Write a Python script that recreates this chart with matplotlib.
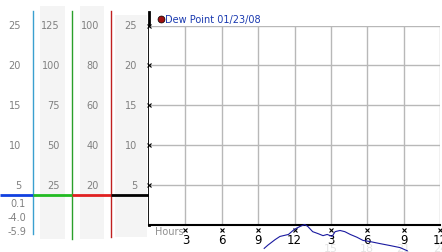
import matplotlib
matplotlib.use("Agg")
import matplotlib.pyplot as plt
from matplotlib.transforms import blended_transform_factory

# data
hours = [9.5, 9.8, 10.4, 10.8, 11.5, 12.0, 12.45, 12.85, 13.1, 13.5, 13.95, 14.35, 14.7,
         15.1, 15.35, 15.75, 16.15, 16.6, 17.15, 17.65, 18.25, 19.05, 19.9, 20.7, 21.3]
dew_point = [-3.0, -2.6, -1.9, -1.5, -1.25, -0.6, -0.25, 0.0, -0.25, -0.9, -1.15, -1.4, -1.25,
             -1.5, -0.9, -0.75, -0.9, -1.25, -1.6, -2.0, -2.15, -2.4, -2.65, -2.9, -3.3]
y_ticks = [5, 10, 15, 20, 25]
col_labels = [["5", "10", "15", "20", "25"],
              ["25", "50", "75", "100", "125"],
              ["20", "40", "60", "80", "100"],
              ["5", "10", "15", "20", "25"]]
low_labels = ["0.1", "-4.0", "-5.9"]
x_ticks = [3, 6, 9, 12, 15, 18, 21, 24]
x_labels = ["3", "6", "9", "12", "3", "6", "9", "12"]
faint_ticks = [15, 18, 21, 24]
faint_labels = ["15", "18", "21", "24"]
legend_label = "Dew Point 01/23/08"

W, H = 442, 253
fig = plt.figure(figsize=(W / 100, H / 100), dpi=100)
fig.patch.set_facecolor("white")

# pixel overlay for the left scale panel
bg = fig.add_axes([0, 0, 1, 1])
bg.set_xlim(0, W)
bg.set_ylim(H, 0)
bg.axis("off")

ax = fig.add_axes([149 / W, (H - 225.5) / H, 291 / W, 199 / H])
ax.set_xlim(0, 24)
ax.set_ylim(0, 25)

# gray bands
for x0, x1, y0, y1 in [(40, 65, 7, 240), (80, 104, 7, 240), (115, 147, 16, 238)]:
    bg.fill_between([x0, x1], y0, y1, color="#f4f4f4", lw=0)

# vertical coloured scale lines
bg.plot([33, 33], [12, 235], color="#3aa0d0", lw=1)
bg.plot([72, 72], [12, 240], color="#2aa02a", lw=1)
bg.plot([111, 111], [12, 238], color="#c02020", lw=1)
bg.plot([149, 149], [13, 226], color="black", lw=2)

# horizontal coloured line
for x0, x1, c in [(0, 33, "#1040e0"), (33, 72, "#22bb22"), (72, 111, "#e02020"), (111, 149, "black")]:
    bg.plot([x0, x1], [196, 196], color=c, lw=2, solid_capstyle="butt")

# column labels
tr = blended_transform_factory(bg.transData, ax.transData)
for xr, labels in zip([21, 60, 99, 137], col_labels):
    for v, lab in zip(y_ticks, labels):
        bg.text(xr, v, lab, transform=tr, ha="right", va="center", fontsize=7, color="#808080")
for yy, lab in zip([204, 218, 232], low_labels):
    bg.text(26, yy, lab, ha="right", va="center", fontsize=7, color="#808080")

# main plot
ax.set_facecolor("white")
for s in ["top", "right", "left"]:
    ax.spines[s].set_visible(False)
ax.spines["bottom"].set_linewidth(1.5)
ax.set_xticks(x_ticks)
ax.set_yticks(y_ticks)
ax.grid(True, color="#b8b8b8", lw=1)
ax.tick_params(length=0, labelleft=False, labelbottom=False)
ax.plot([0] * len(y_ticks), y_ticks, "x", color="black", ms=2.5, mew=0.8, clip_on=False)

xtr = blended_transform_factory(ax.transData, bg.transData)
for xv, lab in zip(x_ticks, x_labels):
    bg.plot(xv, 231, "x", transform=xtr, color="black", ms=2.5, mew=0.8)
    bg.text(xv, 241, lab, transform=xtr, ha="center", va="center", fontsize=8.5, color="black")
for xv, lab in zip(faint_ticks, faint_labels):
    bg.text(xv, 249, lab, transform=xtr, ha="center", va="center", fontsize=8, color="#e4e4e4", zorder=0)
bg.text(155, 232, "Hours", ha="left", va="center", fontsize=7, color="#909090")

ax.plot(hours, dew_point, color="#1a1aa0", lw=0.8, clip_on=False, zorder=5)

# legend
bg.plot(161, 20, "o", color="#a01010", mec="black", mew=0.5, ms=5)
bg.text(165, 20, legend_label, ha="left", va="center", fontsize=7, color="#1a3ab0")

fig.savefig("out.png", dpi=100)
